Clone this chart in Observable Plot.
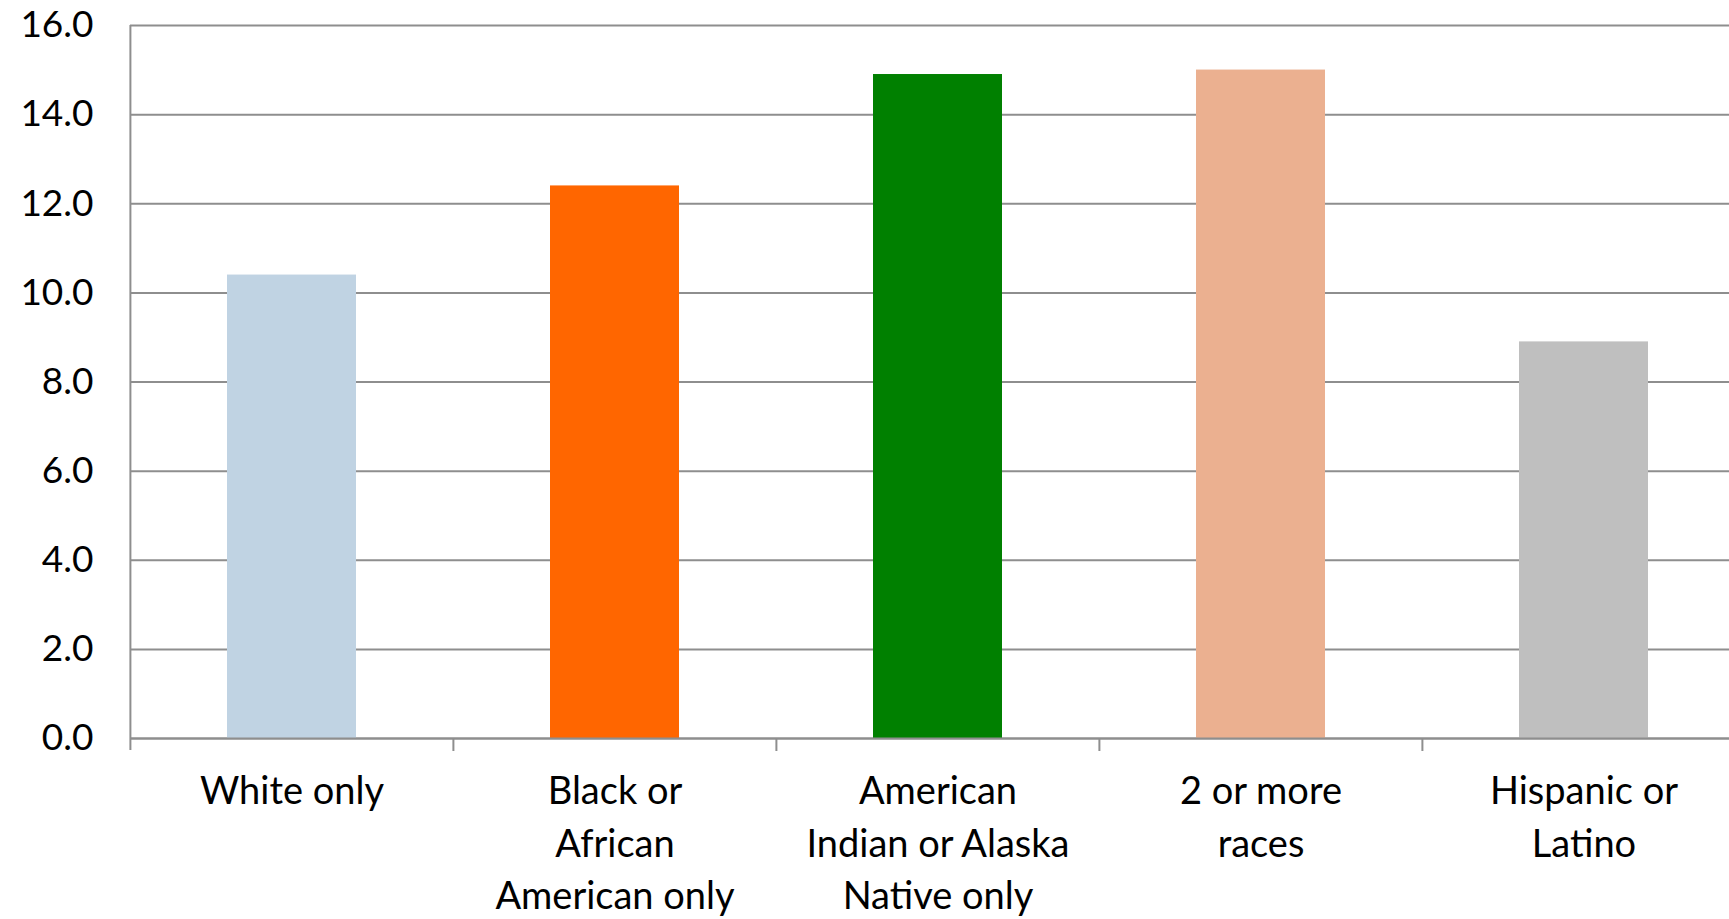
<!DOCTYPE html>
<html>
<head>
<meta charset="utf-8">
<script src="https://cdn.jsdelivr.net/npm/d3@7"></script>
<script src="https://cdn.jsdelivr.net/npm/@observablehq/plot@0.6"></script>
<style>
  html, body { margin: 0; padding: 0; background: #fff; overflow: hidden; }
  #chart svg { display: block; }
</style>
</head>
<body>
<div id="chart"></div>
<script>
const categories = ["White only", "Black or African American only", "American Indian or Alaska Native only", "2 or more races", "Hispanic or Latino"];
const labels = ["White only", "Black or\nAfrican\nAmerican only", "American\nIndian or Alaska\nNative only", "2 or more\nraces", "Hispanic or\nLatino"];
const values = [10.4, 12.4, 14.9, 15.0, 8.9];
const colors = ["#C0D3E3", "#FF6600", "#008000", "#EBB090", "#BFBFBF"];
const yTicks = [0, 2, 4, 6, 8, 10, 12, 14, 16];

const data = categories.map((c, i) => ({category: c, label: labels[i], value: values[i], color: colors[i]}));

const W = 1729, H = 919;
const xRange = [130, 1746];
const step = (xRange[1] - xRange[0]) / categories.length;
const axisColor = "#8e8e8e";

const chart = Plot.plot({
  width: W,
  height: H,
  marginLeft: 130,
  marginRight: 0,
  marginTop: 25,
  marginBottom: 181,
  style: {fontFamily: "Lato, sans-serif", fontSize: "36px", color: "#000", background: "#fff", overflow: "visible"},
  x: {domain: categories, range: xRange, paddingInner: 0.6, paddingOuter: 0.3, axis: null},
  y: {domain: [0, 16], axis: null},
  marks: [
    Plot.gridY(yTicks, {stroke: axisColor, strokeOpacity: 1, strokeWidth: 2}),
    Plot.tickY(yTicks, {y: d => d, x: categories[0], dx: -step / 2, insetLeft: -11, stroke: axisColor, strokeWidth: 2}),
    Plot.text(yTicks, {y: d => d, text: d => d.toFixed(1), frameAnchor: "left", textAnchor: "end", dx: -37, fontSize: 37, fill: "#000"}),
    Plot.barY(data, {x: "category", y: "value", fill: "color", style: "filter: drop-shadow(1px 2px 2px rgba(0,0,0,0.25))"}),
    Plot.ruleX([categories[0]], {x: d => d, y1: 16, y2: 0, dx: -step / 2, insetBottom: -12, stroke: axisColor, strokeWidth: 2}),
    Plot.ruleX(categories.slice(1), {x: d => d, y1: 0, y2: 0, dx: -step / 2, insetBottom: -13, stroke: axisColor, strokeWidth: 2}),
    Plot.ruleY([0], {stroke: axisColor, strokeWidth: 2}),
    Plot.text(data, {x: "category", y: 0, text: "label", lineAnchor: "top", dy: 29, lineHeight: 1.37, fontSize: 38, fill: "#000"})
  ]
});
document.getElementById("chart").appendChild(chart);
</script>
</body>
</html>
